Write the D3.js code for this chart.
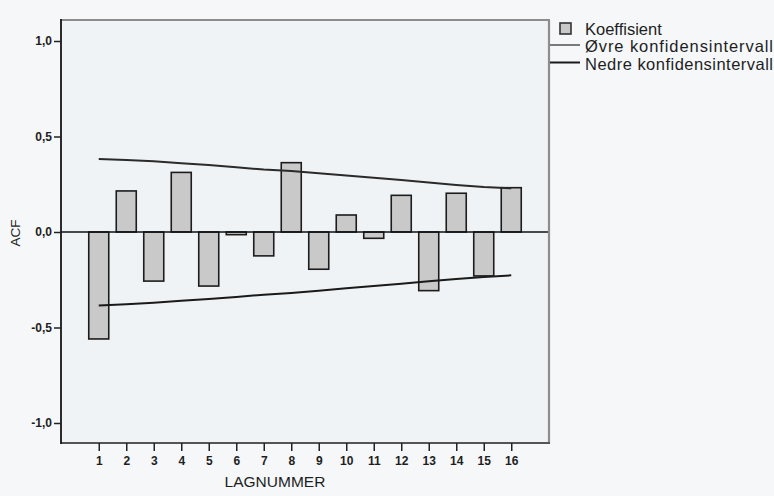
<!DOCTYPE html>
<html>
<head>
<meta charset="utf-8">
<script src="https://cdn.jsdelivr.net/npm/d3@7"></script>
<style>
  html, body { margin: 0; padding: 0; background: #f5f7f9; }
  svg { display: block; }
  text { font-family: "Liberation Sans", Arial, sans-serif; fill: #1e1e1e; }
</style>
</head>
<body>
<svg id="chart" width="774" height="496"></svg>
<script>
// Autocorrelation by lag, with upper and lower confidence limits
const lags = [1, 2, 3, 4, 5, 6, 7, 8, 9, 10, 11, 12, 13, 14, 15, 16];
const coefficients = [-0.56, 0.215, -0.257, 0.312, -0.283, -0.014, -0.125, 0.363,
                      -0.195, 0.089, -0.033, 0.192, -0.307, 0.203, -0.230, 0.232];
const upperLimit = [0.382, 0.377, 0.370, 0.360, 0.351, 0.339, 0.327, 0.320,
                    0.308, 0.296, 0.284, 0.272, 0.259, 0.246, 0.235, 0.229];
const lowerLimit = [-0.385, -0.378, -0.370, -0.360, -0.351, -0.340, -0.328, -0.319,
                    -0.307, -0.295, -0.283, -0.271, -0.258, -0.246, -0.236, -0.227];
const yTicks = [-1.0, -0.5, 0.0, 0.5, 1.0];
const legendLabels = ["Koeffisient", "Øvre konfidensintervall", "Nedre konfidensintervall"];
const xTitle = "LAGNUMMER";
const yTitle = "ACF";

const svg = d3.select("#chart");
const frame = { left: 61, right: 549, top: 20, bottom: 443 };

const x = d3.scalePoint().domain(lags).range([frame.left, frame.right]).padding(1.373);
const y = d3.scaleLinear().domain([-1, 1]).range([423, 41]);

const nbLocale = d3.formatLocale({ decimal: ",", thousands: " ", grouping: [3], currency: ["", " kr"], minus: "-" });
const fmt = nbLocale.format(".1f");

// plot background
svg.append("rect")
  .attr("x", frame.left).attr("y", frame.top)
  .attr("width", frame.right - frame.left).attr("height", frame.bottom - frame.top)
  .attr("fill", "#f0f3f6");

// bars
const barW = 20;
svg.append("g").selectAll("rect").data(lags).join("rect")
  .attr("x", (d) => x(d) - barW / 2)
  .attr("y", (d, i) => y(Math.max(0, coefficients[i])))
  .attr("width", barW)
  .attr("height", (d, i) => Math.abs(y(coefficients[i]) - y(0)))
  .attr("fill", "#c9c9c9")
  .attr("stroke", "#1c1c1c")
  .attr("stroke-width", 1.6);

// zero reference
svg.append("line")
  .attr("x1", frame.left).attr("x2", frame.right)
  .attr("y1", y(0)).attr("y2", y(0))
  .attr("stroke", "#111").attr("stroke-width", 1.6);

// confidence limits
const limitLine = d3.line().x((d) => x(d[0])).y((d) => y(d[1]));
svg.append("path")
  .datum(lags.map((l, i) => [l, upperLimit[i]]))
  .attr("d", limitLine).attr("fill", "none")
  .attr("stroke", "#2a2a2a").attr("stroke-width", 2);
svg.append("path")
  .datum(lags.map((l, i) => [l, lowerLimit[i]]))
  .attr("d", limitLine).attr("fill", "none")
  .attr("stroke", "#1a1a1a").attr("stroke-width", 2);

// frame: top and right in grey, axes darker
svg.append("line").attr("x1", frame.left).attr("x2", frame.right + 1)
  .attr("y1", frame.top).attr("y2", frame.top)
  .attr("stroke", "#8d8d8d").attr("stroke-width", 2.2);
svg.append("line").attr("x1", frame.right).attr("x2", frame.right)
  .attr("y1", frame.top).attr("y2", frame.bottom)
  .attr("stroke", "#8d8d8d").attr("stroke-width", 2.2);
svg.append("line").attr("x1", frame.left).attr("x2", frame.right + 1)
  .attr("y1", frame.bottom).attr("y2", frame.bottom)
  .attr("stroke", "#555").attr("stroke-width", 2.2);
svg.append("line").attr("x1", frame.left).attr("x2", frame.left)
  .attr("y1", frame.top - 1).attr("y2", frame.bottom + 1)
  .attr("stroke", "#151515").attr("stroke-width", 1.8);

// y axis
const yAxis = svg.append("g")
  .attr("transform", `translate(${frame.left},0)`)
  .call(d3.axisLeft(y).tickValues(yTicks).tickFormat(fmt).tickSize(7).tickSizeOuter(0).tickPadding(2));
yAxis.select(".domain").remove();
yAxis.selectAll(".tick line").attr("stroke", "#222").attr("stroke-width", 1.5);
yAxis.selectAll(".tick text").attr("font-size", 12).attr("font-weight", "bold")
  .attr("fill", "#3a3a3a").style("font-family", "'Liberation Sans', Arial, sans-serif");

// x axis
const xAxis = svg.append("g")
  .attr("transform", `translate(0,${frame.bottom})`)
  .call(d3.axisBottom(x).tickSize(8).tickSizeOuter(0).tickPadding(5));
xAxis.select(".domain").remove();
xAxis.selectAll(".tick line").attr("stroke", "#222").attr("stroke-width", 1.5);
xAxis.selectAll(".tick text").attr("font-size", 12).attr("font-weight", "bold")
  .attr("fill", "#3a3a3a").style("font-family", "'Liberation Sans', Arial, sans-serif");

// axis titles
svg.append("text")
  .attr("x", 275).attr("y", 487)
  .attr("text-anchor", "middle").attr("font-size", 15.5)
  .text(xTitle);
svg.append("text")
  .attr("transform", `translate(20,233) rotate(-90)`)
  .attr("text-anchor", "middle").attr("font-size", 13.5)
  .text(yTitle);

// legend
const lg = svg.append("g");
lg.append("rect")
  .attr("x", 560).attr("y", 23).attr("width", 11).attr("height", 11)
  .attr("fill", "#c9c9c9").attr("stroke", "#333").attr("stroke-width", 1.6);
lg.append("line").attr("x1", 550).attr("x2", 580).attr("y1", 45).attr("y2", 45)
  .attr("stroke", "#7a7a7a").attr("stroke-width", 2);
lg.append("line").attr("x1", 550).attr("x2", 580).attr("y1", 62.5).attr("y2", 62.5)
  .attr("stroke", "#1a1a1a").attr("stroke-width", 2);
const legendY = [35, 52, 69.5];
const legendW = [null, 188, 188];
lg.selectAll("text.leg").data(legendLabels).join("text")
  .attr("class", "leg")
  .attr("x", 585).attr("y", (d, i) => legendY[i])
  .attr("font-size", 16.5)
  .each(function (d, i) {
    if (legendW[i]) d3.select(this).attr("textLength", legendW[i]).attr("lengthAdjust", "spacing");
  })
  .text((d) => d);
</script>
</body>
</html>
